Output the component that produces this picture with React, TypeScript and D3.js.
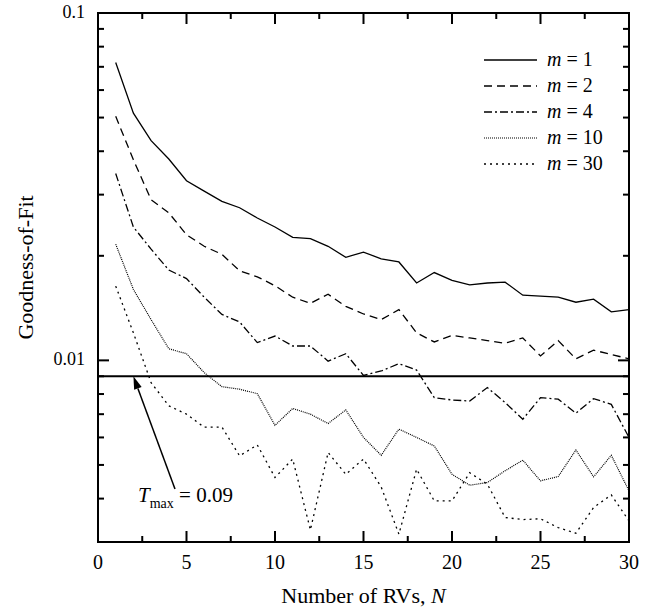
import React from "react";
import * as d3 from "d3";

const N_VALUES = [1,2,3,4,5,6,7,8,9,10,11,12,13,14,15,16,17,18,19,20,21,22,23,24,25,26,27,28,29,30];

const M1 = [0.072,0.0515,0.0429,0.038,0.0329,0.0307,0.0287,0.0275,0.0257,0.0242,0.0226,0.0224,0.0213,0.0198,0.0205,0.0196,0.0192,0.0167,0.0179,0.0170,0.0165,0.0167,0.0168,0.0154,0.0153,0.0152,0.0147,0.0150,0.0138,0.0140];
const M2 = [0.0504,0.0378,0.029,0.0266,0.0230,0.0213,0.0202,0.0181,0.0174,0.0164,0.0152,0.0146,0.0155,0.0143,0.0136,0.0131,0.0140,0.0120,0.0113,0.0118,0.0116,0.0114,0.0112,0.0116,0.0103,0.0114,0.0101,0.0107,0.0104,0.0101];
const M4 = [0.0345,0.0242,0.0209,0.0182,0.0172,0.0152,0.01356,0.0129,0.01125,0.01175,0.0110,0.0110,0.00995,0.01045,0.00905,0.00932,0.00978,0.00938,0.00781,0.00769,0.00764,0.00835,0.00756,0.00677,0.00781,0.00773,0.00705,0.00776,0.00747,0.0060];
const M10 = [0.0216,0.0160,0.0131,0.0108,0.01045,0.00922,0.0084,0.00826,0.00802,0.0065,0.00727,0.0070,0.00658,0.0072,0.0060,0.00533,0.00634,0.0060,0.00567,0.0047,0.00437,0.00445,0.00481,0.00516,0.0045,0.00463,0.00552,0.00462,0.00533,0.00421];
const M30 = [0.01636,0.0120,0.00863,0.0074,0.0070,0.00642,0.00643,0.00531,0.00571,0.0046,0.0052,0.00325,0.00543,0.0047,0.0052,0.00432,0.00316,0.00486,0.00394,0.00394,0.00475,0.0044,0.00353,0.00348,0.0035,0.0033,0.00318,0.00377,0.0041,0.00345];

const SERIES_LABELS = ["1", "2", "4", "10", "30"];
const SERIES_VALUES = [M1, M2, M4, M10, M30];
const SERIES_DASH = ["none", "8,5", "8,3,2,3", "1,1", "2,4"];

const X_TICKS = [0, 5, 10, 15, 20, 25, 30];
const X_MINOR = [2.5, 7.5, 12.5, 17.5, 22.5, 27.5];
const Y_MAJOR = [0.1, 0.01];
const Y_MAJOR_LABELS = ["0.1", "0.01"];
const Y_MINOR = [0.09,0.08,0.07,0.06,0.05,0.04,0.03,0.02,0.009,0.008,0.007,0.006,0.005,0.004];

const T_MAX = 0.009;

const W = 651, H = 611;
const margin = { left: 98, top: 13, right: 22, bottom: 69 };
const FONT = "Liberation Serif";

export default function App() {
  const x = d3.scaleLinear().domain([0, 30]).range([margin.left, W - margin.right]);
  const y = d3.scaleLog().domain([0.003, 0.1]).range([H - margin.bottom, margin.top]);
  const x0 = x.range()[0], x1 = x.range()[1];
  const yb = y.range()[0], yt = y.range()[1];

  const line = d3.line<number>()
    .x((_, i) => x(N_VALUES[i]))
    .y((d) => y(d));

  const major = 11, minor = 6;

  const tip = [x(2), y(T_MAX)];
  const tail = [x(4.35), y(0.00426)];
  const ang = Math.atan2(tail[1] - tip[1], tail[0] - tip[0]);
  const ah = 13, aw = 4;
  const hx = tip[0] + ah * Math.cos(ang), hy = tip[1] + ah * Math.sin(ang);
  const px = -Math.sin(ang) * aw, py = Math.cos(ang) * aw;
  const arrowHead = `M${tip[0]},${tip[1]} L${hx + px},${hy + py} L${hx - px},${hy - py} Z`;

  const legendX0 = 484, legendX1 = 537, legendTextX = 547, legendY0 = 60, legendDy = 26;
  const ts = { fontFamily: FONT };

  return (
    <svg width={W} height={H} style={{ position: "absolute", left: 0, top: 0, background: "#fff" }}>
      <defs>
        <clipPath id="plotclip">
          <rect x={x0} y={yt} width={x1 - x0} height={yb - yt} />
        </clipPath>
      </defs>
      <rect width={W} height={H} fill="#fff" />

      <g clipPath="url(#plotclip)">
        {SERIES_VALUES.map((vals, k) => (
          <path key={k} d={line(vals) || ""} fill="none" stroke="#000"
            strokeWidth={k === 3 ? 1.2 : 1.3}
            strokeDasharray={SERIES_DASH[k] === "none" ? undefined : SERIES_DASH[k]} />
        ))}
        <line x1={x0} x2={x1} y1={y(T_MAX)} y2={y(T_MAX)} stroke="#000" strokeWidth={1.8} />
      </g>

      <rect x={x0} y={yt} width={x1 - x0} height={yb - yt} fill="none" stroke="#000" strokeWidth={2} />

      {X_TICKS.map((t) => (
        <g key={"xt" + t}>
          <line x1={x(t)} x2={x(t)} y1={yb} y2={yb - major} stroke="#000" strokeWidth={2} />
          <line x1={x(t)} x2={x(t)} y1={yt} y2={yt + major} stroke="#000" strokeWidth={2} />
          <text x={x(t)} y={569} textAnchor="middle" fontSize={20} style={ts}>{t}</text>
        </g>
      ))}
      {X_MINOR.map((t) => (
        <g key={"xm" + t}>
          <line x1={x(t)} x2={x(t)} y1={yb} y2={yb - minor} stroke="#000" strokeWidth={2} />
          <line x1={x(t)} x2={x(t)} y1={yt} y2={yt + minor} stroke="#000" strokeWidth={2} />
        </g>
      ))}

      {Y_MAJOR.map((t, i) => (
        <g key={"ym" + t}>
          <line x1={x0} x2={x0 + major} y1={y(t)} y2={y(t)} stroke="#000" strokeWidth={2} />
          <line x1={x1} x2={x1 - major} y1={y(t)} y2={y(t)} stroke="#000" strokeWidth={2} />
          <text x={x0 - 13} y={y(t) + 5} textAnchor="end" fontSize={18} style={ts}>{Y_MAJOR_LABELS[i]}</text>
        </g>
      ))}
      {Y_MINOR.map((t) => (
        <g key={"yn" + t}>
          <line x1={x0} x2={x0 + minor} y1={y(t)} y2={y(t)} stroke="#000" strokeWidth={2} />
          <line x1={x1} x2={x1 - minor} y1={y(t)} y2={y(t)} stroke="#000" strokeWidth={2} />
        </g>
      ))}

      <text x={(x0 + x1) / 2} y={603} textAnchor="middle" fontSize={22} style={ts}>
        Number of RVs, <tspan fontStyle="italic">N</tspan>
      </text>
      <text transform={`translate(33,${(yt + yb) / 2 - 10}) rotate(-90)`} textAnchor="middle" fontSize={22} style={ts}>
        Goodness-of-Fit
      </text>

      {SERIES_LABELS.map((lab, k) => {
        const ly = legendY0 + k * legendDy;
        return (
          <g key={"lg" + k}>
            <line x1={legendX0} x2={legendX1} y1={ly} y2={ly} stroke="#000"
              strokeWidth={k === 3 ? 1.2 : 1.3}
              strokeDasharray={SERIES_DASH[k] === "none" ? undefined : SERIES_DASH[k]} />
            <text x={legendTextX} y={ly + 6} fontSize={20} style={ts}>
              <tspan fontStyle="italic">m</tspan> = {lab}
            </text>
          </g>
        );
      })}

      <line x1={tail[0]} y1={tail[1]} x2={hx} y2={hy} stroke="#000" strokeWidth={1.5} />
      <path d={arrowHead} fill="#000" />
      <text x={x(2.26)} y={y(0.00391)} fontSize={21} style={ts}>
        <tspan fontStyle="italic">T</tspan>
        <tspan fontSize={14} dy={6}>max</tspan>
        <tspan dy={-6}> = 0.09</tspan>
      </text>
    </svg>
  );
}
